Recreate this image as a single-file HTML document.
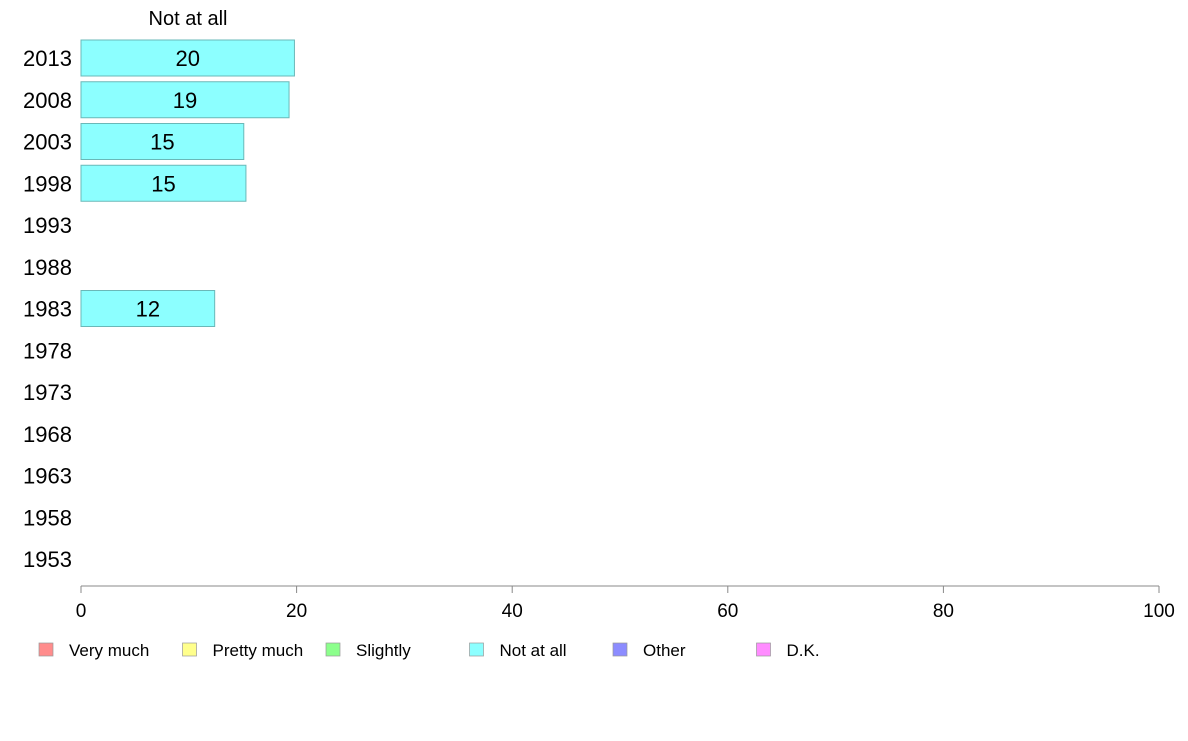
<!DOCTYPE html>
<html><head><meta charset="utf-8"><style>
body{margin:0;background:#fff;font-family:"Liberation Sans",Arial,sans-serif}
svg text{font-family:"Liberation Sans",Arial,sans-serif}
</style></head><body>
<svg id="chart" width="1188" height="736" xmlns="http://www.w3.org/2000/svg">
<text x="188" y="25" font-size="20" text-anchor="middle" fill="#000">Not at all</text>
<g id="bars"></g><g id="yaxis"></g><g id="xaxis"></g><g id="legend"></g>
</svg>
<script>
const years=[2013,2008,2003,1998,1993,1988,1983,1978,1973,1968,1963,1958,1953];
const values=[19.8,19.3,15.1,15.3,null,null,12.4,null,null,null,null,null,null];
const labels=["20","19","15","15","","","12","","","","","",""];
const xTicks=[0,20,40,60,80,100];
const legendNames=["Very much","Pretty much","Slightly","Not at all","Other","D.K."];
const legendColors=["#ff8c8c","#ffff8c","#8cff8c","#8cffff","#8c8cff","#ff8cff"];
const NS="http://www.w3.org/2000/svg";
const x=v=>81+v*(1159-81)/100;
const y=yr=>58+(2013-yr)*(559-58)/60;
function mk(tag,attrs,parent,txt){const e=document.createElementNS(NS,tag);for(const k in attrs)e.setAttribute(k,attrs[k]);if(txt!==undefined)e.textContent=txt;parent.appendChild(e);return e;}
const gb=document.getElementById('bars'),gy=document.getElementById('yaxis'),gx=document.getElementById('xaxis'),gl=document.getElementById('legend');
years.forEach((yr,i)=>{
 const t=mk('text',{x:72,y:y(yr)+8,'font-size':22,'text-anchor':'end',fill:'#000'},gy,String(yr));
 
 
 if(values[i]!=null){
  const r=mk('rect',{x:x(0),y:y(yr)-18,width:x(values[i])-x(0),height:36,fill:'#8cffff',stroke:'#6ab8b8','stroke-width':1},gb);
  
  
  const l=mk('text',{x:(x(0)+x(values[i]))/2,y:y(yr)+8,'font-size':22,'text-anchor':'middle',fill:'#000'},gb,labels[i]);
  
  
 }
});
const ax=mk('line',{x1:x(0),x2:x(100),y1:586,y2:586,stroke:'#888','stroke-width':1},gx);


xTicks.forEach(v=>{
 const tk=mk('line',{x1:x(v),x2:x(v),y1:586,y2:593,stroke:'#888'},gx);
 
 
 const t=mk('text',{x:x(v),y:617,'font-size':19,'text-anchor':'middle',fill:'#000'},gx,String(v));
 
 
});
legendNames.forEach((n,i)=>{
 const lx=39+i*143.5;
 const r=mk('rect',{x:lx,y:643,width:14,height:13,fill:legendColors[i],stroke:'#999','stroke-width':0.7},gl);
 
 
 const t=mk('text',{x:lx+30,y:656,'font-size':17,fill:'#000'},gl,n);
 
 
});
</script>
</body></html>
